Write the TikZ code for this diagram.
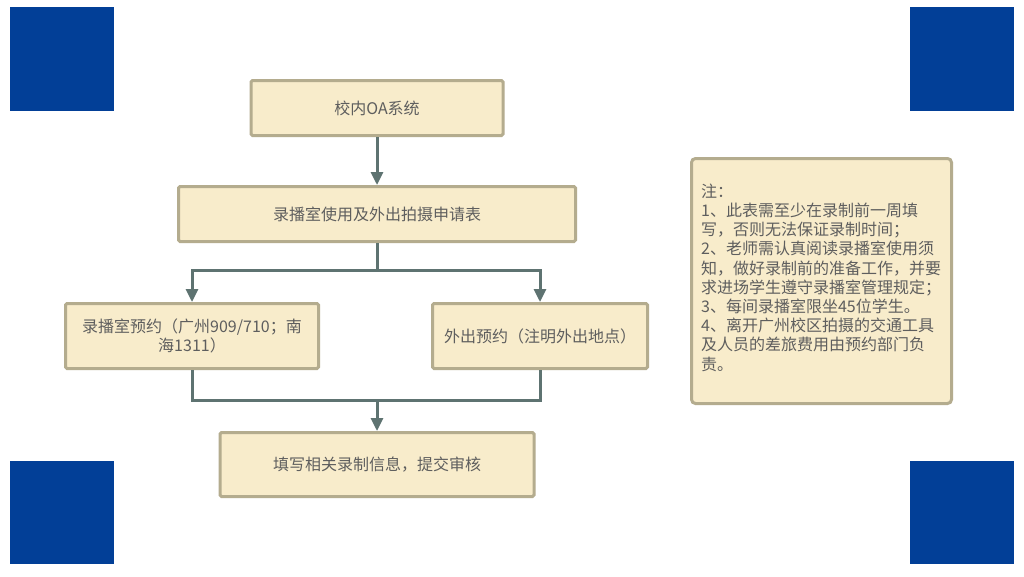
\documentclass[tikz,border=0pt]{standalone}
\usepackage{fontspec}
\setmainfont{Noto Sans CJK SC}
\usetikzlibrary{arrows.meta}
\definecolor{sqblue}{HTML}{023F97}
\definecolor{boxfill}{HTML}{F8ECCB}
\definecolor{boxline}{HTML}{B4AC8E}
\definecolor{conncol}{HTML}{5E7371}
\definecolor{txtcol}{HTML}{5E5E5E}
\tikzset{
  fbox/.style={draw=boxline, fill=boxfill, line width=3pt, rounded corners=1.5pt,
    inner sep=0pt, align=center, text=txtcol,
    font=\fontsize{16}{19.5}\selectfont},
  conn/.style={draw=conncol, line width=3pt},
  arr/.style={conn, -{Triangle[length=13pt,width=12pt]}},
  sq/.style={fill=sqblue}
}
\begin{document}
\begin{tikzpicture}[x=1pt,y=-1pt]
\useasboundingbox (0,0) rectangle (1024,576);
\fill[white] (0,0) rectangle (1024,576);
% blue corner squares
\fill[sq] (10,7) rectangle (114,111);
\fill[sq] (910,7) rectangle (1014,111);
\fill[sq] (10,461) rectangle (114,564);
\fill[sq] (910,461) rectangle (1014,564);
% boxes
\node[fbox, minimum width=252pt, minimum height=55pt] (oa) at (377,108) {校内OA系统};
\node[fbox, minimum width=397pt, minimum height=55pt] (req) at (377,214) {录播室使用及外出拍摄申请表};
\node[fbox, minimum width=253pt, minimum height=65pt] (lb) at (192,336) {录播室预约（广州909/710；南\\海1311）};
\node[fbox, minimum width=215pt, minimum height=65pt] (rb) at (540,336) {外出预约（注明外出地点）};
\node[fbox, minimum width=314pt, minimum height=64pt] (bt) at (377,464.5) {填写相关录制信息，提交审核};
\node[fbox, rounded corners=4pt, minimum width=260pt, minimum height=245pt] (note) at (821.5,281) {};
\node[anchor=north west, inner sep=0pt, align=left, text=txtcol,
  font=\fontsize{16}{19.2}\selectfont] (notetext) at (701,183.5)
  {注：\\
   1、此表需至少在录制前一周填\\
   写，否则无法保证录制时间；\\
   2、老师需认真阅读录播室使用须\\
   知，做好录制前的准备工作，并要\\
   求进场学生遵守录播室管理规定；\\
   3、每间录播室限坐45位学生。\\
   4、离开广州校区拍摄的交通工具\\
   及人员的差旅费用由预约部门负\\
   责。};
% connectors
\coordinate (j1) at (377,270);
\coordinate (j2) at (377,400);
\draw[arr] (oa.south) -- (req.north);
\draw[conn] (req.south) -- (j1);
\draw[arr] (j1) -| (lb.north);
\draw[arr] (j1) -| (rb.north);
\draw[conn] (lb.south) -- (lb.south |- j2) -- (rb.south |- j2) -- (rb.south);
\draw[arr] (j2) -- (bt.north);
\end{tikzpicture}
\end{document}
